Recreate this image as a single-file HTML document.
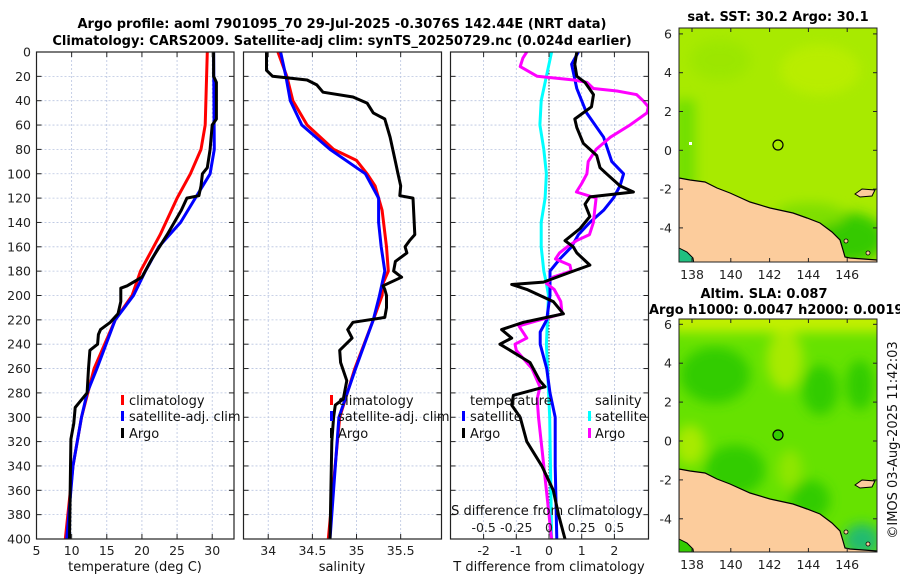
<!DOCTYPE html>
<html><head><meta charset="utf-8"><style>
body{margin:0;background:#fff;}
svg{display:block;font-family:"DejaVu Sans","Liberation Sans",sans-serif;}
.tk{font-size:12.5px;fill:#222;}
.tt{font-size:13px;font-weight:bold;fill:#000;}
.lg{font-size:13px;fill:#111;}
</style></head><body>
<svg id="fig" width="900" height="580" viewBox="0 0 900 580">
<defs>
<clipPath id="c1"><rect x="36.5" y="52" width="197.5" height="487"/></clipPath>
<clipPath id="c2"><rect x="243.5" y="52" width="198" height="487"/></clipPath>
<clipPath id="c3"><rect x="450.5" y="52" width="198" height="487"/></clipPath>
<clipPath id="m1"><rect x="679" y="28" width="198" height="234"/></clipPath>
<clipPath id="m2"><rect x="679" y="319" width="198" height="233"/></clipPath>
<filter id="bl"><feGaussianBlur stdDeviation="6"/></filter>
<g id="landshape">
<path d="M679,178 L690,180 L705,182 L717,188 L730,193 L750,202 L770,208 L793,213 L807,218 L820,223 L832,232 L840,240 L843,250 L845,257 L850,258 L877,260 L877,270 L679,270 Z" fill="#fccc9c" stroke="#000" stroke-width="1.2"/>
<path d="M855,194 L862,189 L875,190 L872,196 L860,197 Z" fill="#fccc9c" stroke="#000"/>
<circle cx="846" cy="241" r="2" fill="#fccc9c" stroke="#000" stroke-width="0.8"/>
<circle cx="868" cy="253" r="2" fill="#fccc9c" stroke="#000" stroke-width="0.8"/>
</g>
</defs>
<text class="tt" x="342" y="28" text-anchor="middle">Argo profile: aoml 7901095_70 29-Jul-2025 -0.3076S 142.44E (NRT data)</text>
<text class="tt" x="342" y="45" text-anchor="middle">Climatology: CARS2009. Satellite-adj clim: synTS_20250729.nc (0.024d earlier)</text>

<g id="grid"></g>
<g id="marks"></g>
<g id="axes"></g>

<g>
<rect x="121" y="395" width="3" height="10" fill="#f00"/><text class="lg" x="129" y="405">climatology</text>
<rect x="121" y="411" width="3" height="10" fill="#00f"/><text class="lg" x="129" y="421">satellite-adj. clim</text>
<rect x="121" y="428" width="3" height="10" fill="#000"/><text class="lg" x="129" y="438">Argo</text>
</g>
<g>
<rect x="330" y="395" width="3" height="10" fill="#f00"/><text class="lg" x="338" y="405">climatology</text>
<rect x="330" y="411" width="3" height="10" fill="#00f"/><text class="lg" x="338" y="421">satellite-adj. clim</text>
<rect x="330" y="428" width="3" height="10" fill="#000"/><text class="lg" x="338" y="438">Argo</text>
</g>
<g>
<text class="lg" x="470" y="405">temperature</text>
<rect x="462" y="411" width="3" height="10" fill="#00f"/><text class="lg" x="470" y="421">satellite</text>
<rect x="462" y="428" width="3" height="10" fill="#000"/><text class="lg" x="470" y="438">Argo</text>
<text class="lg" x="595" y="405">salinity</text>
<rect x="588" y="411" width="3" height="10" fill="#0ff"/><text class="lg" x="595" y="421">satellite</text>
<rect x="588" y="428" width="3" height="10" fill="#f0f"/><text class="lg" x="595" y="438">Argo</text>
</g>
<text class="lg" x="547" y="515" text-anchor="middle">S difference from climatology</text>
<g id="stick" class="tk"></g>

<text class="lg" x="135" y="571" text-anchor="middle">temperature (deg C)</text>
<text class="lg" x="342" y="571" text-anchor="middle">salinity</text>
<text class="lg" x="549" y="571" text-anchor="middle">T difference from climatology</text>

<g>
<text class="tt" x="778" y="21" text-anchor="middle">sat. SST: 30.2 Argo: 30.1</text>
<g clip-path="url(#m1)">
<rect x="679" y="28" width="198" height="234" fill="#a8ea00"/>
<g filter="url(#bl)" opacity="0.85">
<rect x="675" y="100" width="20" height="90" fill="#66dd00"/>
<ellipse cx="850" cy="238" rx="35" ry="25" fill="#22c400"/>
<ellipse cx="810" cy="215" rx="35" ry="12" fill="#77dd00"/>
<ellipse cx="820" cy="70" rx="40" ry="25" fill="#bcee00"/>
<ellipse cx="720" cy="60" rx="30" ry="20" fill="#9ae600"/>
</g>
<use href="#landshape"/>
<path d="M679,270 L679,248 L687,252 L693,258 L695,270 Z" fill="#20c080" stroke="#000"/>
<circle cx="778" cy="145" r="5" fill="none" stroke="#000" stroke-width="1.2"/>
<rect x="689" y="142" width="3" height="3" fill="#fff"/>
</g>
<rect x="679" y="28" width="198" height="234" fill="none" stroke="#222" stroke-width="1"/>
<g id="mapax1" class="tk"></g>
</g>

<g>
<text class="tt" x="764" y="298" text-anchor="middle">Altim. SLA: 0.087</text>
<text class="tt" x="649" y="314">Argo h1000: 0.0047 h2000: 0.0019</text>
<g clip-path="url(#m2)">
<rect x="679" y="319" width="198" height="233" fill="#66e200"/>
<g filter="url(#bl)">
<rect x="670" y="310" width="220" height="22" fill="#c4f000"/>
<ellipse cx="715" cy="375" rx="35" ry="28" fill="#33cc00"/>
<ellipse cx="785" cy="360" rx="18" ry="30" fill="#a8ea00"/>
<ellipse cx="820" cy="390" rx="18" ry="25" fill="#33cc00"/>
<ellipse cx="860" cy="385" rx="14" ry="25" fill="#33cc00"/>
<ellipse cx="735" cy="470" rx="30" ry="25" fill="#33cc00"/>
<ellipse cx="690" cy="445" rx="15" ry="20" fill="#a8ea00"/>
<ellipse cx="790" cy="470" rx="12" ry="20" fill="#8fe600"/>
<ellipse cx="810" cy="500" rx="20" ry="20" fill="#33cc00"/>
<ellipse cx="862" cy="540" rx="18" ry="16" fill="#20bb70"/>
</g>
<use href="#landshape" transform="translate(0,291)"/>
<path d="M679,561 L679,539 L687,543 L693,549 L695,561 Z" fill="#33cc00" stroke="#000"/>
<circle cx="778" cy="435" r="5" fill="#33cc00" stroke="#000" stroke-width="1.2"/>
</g>
<rect x="679" y="319" width="198" height="233" fill="none" stroke="#222" stroke-width="1"/>
<g id="mapax2" class="tk"></g>
</g>
<text class="lg" transform="translate(897,440) rotate(-90)" text-anchor="middle">©IMOS 03-Aug-2025 11:42:03</text>
</svg>
<script>
const depthTicks=[0,20,40,60,80,100,120,140,160,180,200,220,240,260,280,300,320,340,360,380,400];
const tempTicks=[5,10,15,20,25,30];
const salTicks=[34,34.5,35,35.5];
const salTickLabels=["34","34.5","35","35.5"];
const diffTicks=[-2,-1,0,1,2];
const sdiffTicks=[-0.5,-0.25,0,0.25,0.5];
const sdiffTickLabels=["-0.5","-0.25","0","0.25","0.5"];
const lonTicks=[138,140,142,144,146];
const latTicks=[6,4,2,0,-2,-4];

const tArgoD=[0,20,25,55,60,80,95,100,110,118,120,130,150,170,185,192,194,205,215,222,228,232,240,245,260,280,287,292,305,318,400];
const tArgoV=[30.2,30.2,30.6,30.6,30.0,29.7,29.3,28.6,28.4,28.1,26.4,25.6,23.6,21.4,20.0,17.9,17.0,17.0,16.6,15.5,14.1,13.8,13.7,12.6,12.4,12.2,11.2,10.5,10.3,9.9,9.7];
const tClimD=[0,60,80,100,120,150,180,200,220,260,300,340,400];
const tClimV=[29.3,29.0,28.4,26.9,25.0,22.6,19.8,18.6,16.2,13.2,11.4,10.2,9.1];
const tSatD=[0,80,100,120,140,160,180,200,220,260,280,300,340,400];
const tSatV=[30.2,30.3,29.7,27.6,25.5,22.4,20.5,18.8,16.2,13.6,12.2,11.4,10.2,9.3];

const sArgoD=[0,15,20,23,27,33,37,42,50,55,70,90,100,110,118,120,150,155,160,165,172,180,185,192,195,200,210,218,222,228,235,245,255,270,285,290,300,320,400];
const sArgoV=[33.98,33.98,34.05,34.44,34.55,34.62,34.96,35.12,35.19,35.32,35.38,35.44,35.47,35.50,35.49,35.64,35.66,35.60,35.55,35.57,35.44,35.42,35.51,35.30,35.32,35.34,35.34,35.32,34.96,34.90,34.95,34.81,34.82,34.89,34.85,34.76,34.74,34.72,34.70];
const sClimD=[0,20,40,60,80,89,100,110,130,160,180,190,200,220,260,300,400];
const sClimV=[34.11,34.21,34.28,34.44,34.74,35.0,35.12,35.21,35.29,35.34,35.36,35.30,35.29,35.19,34.98,34.81,34.68];
const sSatD=[0,20,40,60,80,100,120,140,160,180,200,220,260,300,400];
const sSatV=[34.14,34.20,34.25,34.38,34.70,35.10,35.25,35.25,35.28,35.32,35.26,35.19,34.99,34.80,34.70];

const dTArgoD=[0,10,20,25,35,45,55,62,75,85,95,100,110,115,119,125,135,145,155,160,165,170,175,180,189,191,195,205,215,218,222,228,235,240,245,255,270,275,282,290,300,320,340,360,380,400];
const dTArgoV=[0.85,0.79,0.85,1.1,1.36,1.3,0.79,0.85,1.05,1.46,1.56,1.76,2.17,2.58,1.25,1.1,1.25,0.95,0.49,0.74,0.85,1.05,1.25,0.74,-0.17,-1.14,-0.68,0.13,0.44,-0.07,-0.78,-1.45,-1.14,-1.5,-1.19,-0.58,-0.28,-0.12,-1.09,-1.14,-0.88,-0.68,-0.22,0.13,0.29,0.49];
const dTSatD=[0,10,30,50,70,90,100,110,120,130,140,150,160,170,180,200,220,230,240,260,280,300,340,400];
const dTSatV=[0.9,0.69,0.85,1.15,1.67,1.92,2.28,2.17,1.97,1.67,1.25,0.9,0.69,0.33,0.03,0.03,-0.07,-0.27,-0.27,-0.07,0.03,0.19,0.19,0.24];
const dSSatD=[0,20,40,60,80,100,120,140,160,180,190,200,240,300,400];
const dSSatV=[0.02,-0.02,-0.06,-0.07,-0.04,-0.02,-0.03,-0.06,-0.06,-0.04,-0.02,-0.004,-0.02,0.005,0.02];
const dSArgoD=[0,5,12,20,23,25,30,32,35,40,45,50,60,70,80,90,100,108,115,120,130,140,150,155,160,165,170,175,180,185,190,195,205,215,220,225,235,240,245,260,275,285,300,330,360,400];
const dSArgoV=[-0.17,-0.2,-0.22,-0.09,0.19,0.29,0.34,0.52,0.67,0.72,0.76,0.75,0.62,0.47,0.36,0.3,0.29,0.25,0.21,0.36,0.35,0.34,0.31,0.21,0.14,0.08,0.05,0.16,0.17,0.03,-0.02,0.04,0.09,0.1,-0.07,-0.23,-0.17,-0.26,-0.25,-0.13,-0.07,-0.09,-0.08,-0.05,-0.02,0.02];

const Y0=52,Y1=539;
const y=d=>Y0+d*(Y1-Y0)/400;
const xT=v=>36.5+(v-5)*(234-36.5)/28.1;
const xS=v=>243.5+(v-33.72)*88.3;
const xD=v=>549+v*32.7;
const xSD=v=>549+v*130.7;
const mlon=v=>692+(v-138)*19.4;
const mlat1=v=>150.3-v*19.4;
const mlat2=v=>441-v*19.45;

const NS="http://www.w3.org/2000/svg";
function el(tag,attrs,parent){const e=document.createElementNS(NS,tag);for(const k in attrs)e.setAttribute(k,attrs[k]);parent.appendChild(e);return e;}
const G=document.getElementById('grid'),M=document.getElementById('marks'),A=document.getElementById('axes');

const panels=[{l:36.5,r:234,ticks:tempTicks,f:xT,labels:tempTicks.map(String),name:'temperature'},
{l:243.5,r:441.5,ticks:salTicks,f:xS,labels:salTickLabels,name:'salinity'},
{l:450.5,r:648.5,ticks:diffTicks,f:xD,labels:diffTicks.map(String),name:'difference'}];
panels.forEach(p=>{
  depthTicks.forEach(d=>{
    const gl=el('line',{x1:p.l,x2:p.r,y1:y(d),y2:y(d),stroke:'#b8c4e0','stroke-width':0.8,'stroke-dasharray':'2,2'},G);
    
    
    el('line',{x1:p.l,x2:p.l+5,y1:y(d),y2:y(d),stroke:'#222'},A);
    el('line',{x1:p.r-5,x2:p.r,y1:y(d),y2:y(d),stroke:'#222'},A);
  });
  p.ticks.forEach((v,i)=>{
    const X=p.f(v);
    if(X>p.l+1){const gl=el('line',{x1:X,x2:X,y1:Y0,y2:Y1,stroke:'#b8c4e0','stroke-width':0.8,'stroke-dasharray':'2,2'},G);
      
      }
    el('line',{x1:X,x2:X,y1:Y1-5,y2:Y1,stroke:'#222'},A);
    el('line',{x1:X,x2:X,y1:Y0,y2:Y0+5,stroke:'#222'},A);
    const t=el('text',{x:X,y:555,'text-anchor':'middle',class:'tk'},A);t.textContent=p.labels[i];
    
    
  });
  const r=el('rect',{x:p.l,y:Y0,width:p.r-p.l,height:Y1-Y0,fill:'none',stroke:'#222','stroke-width':1.2},A);
  
  
});
depthTicks.forEach(d=>{
  const t=el('text',{x:31,y:y(d)+4.5,'text-anchor':'end',class:'tk'},A);t.textContent=d;
  
  
});
const zl=el('line',{x1:549,x2:549,y1:Y0,y2:Y1,stroke:'#333','stroke-width':1,'stroke-dasharray':'1.5,1.5'},G);


const ST=document.getElementById('stick');
sdiffTicks.forEach((v,i)=>{const t=el('text',{x:xSD(v),y:532,'text-anchor':'middle'},ST);t.textContent=sdiffTickLabels[i];
  
  });

function line(D,V,fx,color,clip,name,w){
  const pts=D.map((d,i)=>fx(V[i]).toFixed(1)+','+y(d).toFixed(1)).join(' ');
  const pl=el('polyline',{points:pts,fill:'none',stroke:color,'stroke-width':w||3,'stroke-linejoin':'round','clip-path':'url(#'+clip+')'},M);
  
  
}
line(tClimD,tClimV,xT,'#f00','c1','temp-climatology-line');
line(tSatD,tSatV,xT,'#00f','c1','temp-satellite-line');
line(tArgoD,tArgoV,xT,'#000','c1','temp-argo-line');
line(sClimD,sClimV,xS,'#f00','c2','sal-climatology-line');
line(sSatD,sSatV,xS,'#00f','c2','sal-satellite-line');
line(sArgoD,sArgoV,xS,'#000','c2','sal-argo-line');
line(dSSatD,dSSatV,xSD,'#0ff','c3','sdiff-satellite-line');
line(dTSatD,dTSatV,xD,'#00f','c3','tdiff-satellite-line');
line(dSArgoD,dSArgoV,xSD,'#f0f','c3','sdiff-argo-line');
line(dTArgoD,dTArgoV,xD,'#000','c3','tdiff-argo-line');

function mapAxes(gid,top,bot,flat){
  const g=document.getElementById(gid);
  lonTicks.forEach(v=>{const X=mlon(v);
    el('line',{x1:X,x2:X,y1:bot,y2:bot-4,stroke:'#222'},g);
    el('line',{x1:X,x2:X,y1:top,y2:top+4,stroke:'#222'},g);
    const t=el('text',{x:X,y:bot+17,'text-anchor':'middle'},g);t.textContent=v;
    
    });
  latTicks.forEach(v=>{const Yv=flat(v);
    el('line',{x1:679,x2:683,y1:Yv,y2:Yv,stroke:'#222'},g);
    el('line',{x1:873,x2:877,y1:Yv,y2:Yv,stroke:'#222'},g);
    const t=el('text',{x:672,y:Yv+4.5,'text-anchor':'end'},g);t.textContent=v;
    
    });
}
mapAxes('mapax1',28,262,mlat1);
mapAxes('mapax2',319,552,mlat2);
</script>
</body></html>
